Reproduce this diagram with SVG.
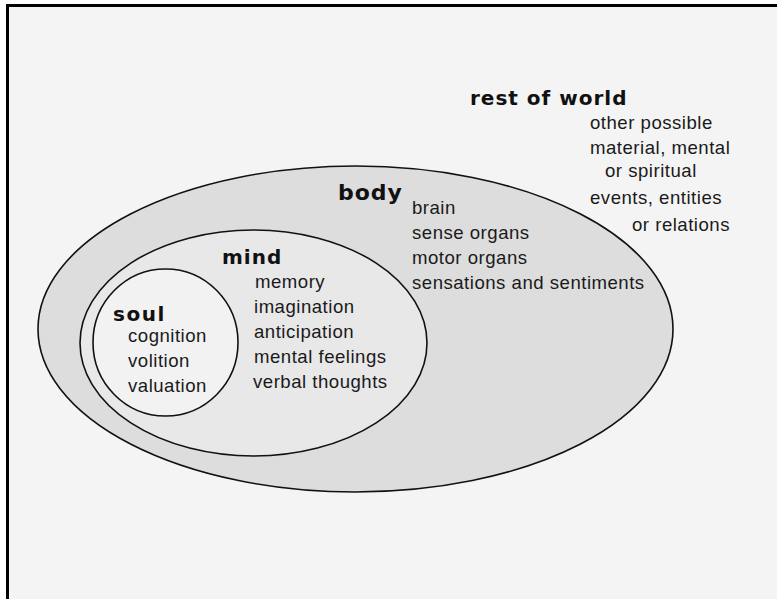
<svg xmlns="http://www.w3.org/2000/svg" width="777" height="599" viewBox="0 0 777 599">
<style>
.ring{stroke:#111;stroke-width:1.6}
.h{font-family:"DejaVu Sans",sans-serif;font-weight:bold;font-size:20px;letter-spacing:1px;fill:#111}
.t{font-family:"Liberation Sans",Arial,sans-serif;font-size:18.6px;letter-spacing:0.5px;fill:#1a1a1a}
</style>
<rect x="0" y="0" width="777" height="599" fill="#ffffff"/>
<rect x="7.5" y="5.5" width="775" height="600" fill="#f4f4f4"/>
<path d="M7.5 599 V5.5 H777" fill="none" stroke="#000" stroke-width="3"/>
<g id="body">
<ellipse class="ring" cx="355.5" cy="329" rx="317.5" ry="163" fill="#dddddd"/>
<text class="h" x="338" y="200" style="font-size:22px">body</text>
<text class="t" x="412" y="214">brain</text>
<text class="t" x="412" y="239">sense organs</text>
<text class="t" x="412" y="264">motor organs</text>
<text class="t" x="412" y="289">sensations and sentiments</text>
</g>
<g id="mind">
<ellipse class="ring" cx="253.5" cy="343" rx="173.5" ry="113" fill="#e8e8e8"/>
<text class="h" x="222" y="264">mind</text>
<text class="t" x="255" y="288">memory</text>
<text class="t" x="254" y="313">imagination</text>
<text class="t" x="254" y="338">anticipation</text>
<text class="t" x="254" y="363">mental feelings</text>
<text class="t" x="253" y="388">verbal thoughts</text>
</g>
<g id="soul">
<ellipse class="ring" cx="165.5" cy="342.5" rx="72.5" ry="73.5" fill="#f2f2f2"/>
<text class="h" x="113" y="321" style="letter-spacing:1.5px">soul</text>
<text class="t" x="128" y="342">cognition</text>
<text class="t" x="128" y="367">volition</text>
<text class="t" x="128" y="392">valuation</text>
</g>
<g id="rest-of-world">
<text class="h" x="470" y="105">rest of world</text>
<text class="t" x="590" y="129">other possible</text>
<text class="t" x="590" y="154">material, mental</text>
<text class="t" x="605" y="177">or spiritual</text>
<text class="t" x="590" y="204">events, entities</text>
<text class="t" x="632" y="231">or relations</text>
</g>
<g id="connectors"/>
</svg>
